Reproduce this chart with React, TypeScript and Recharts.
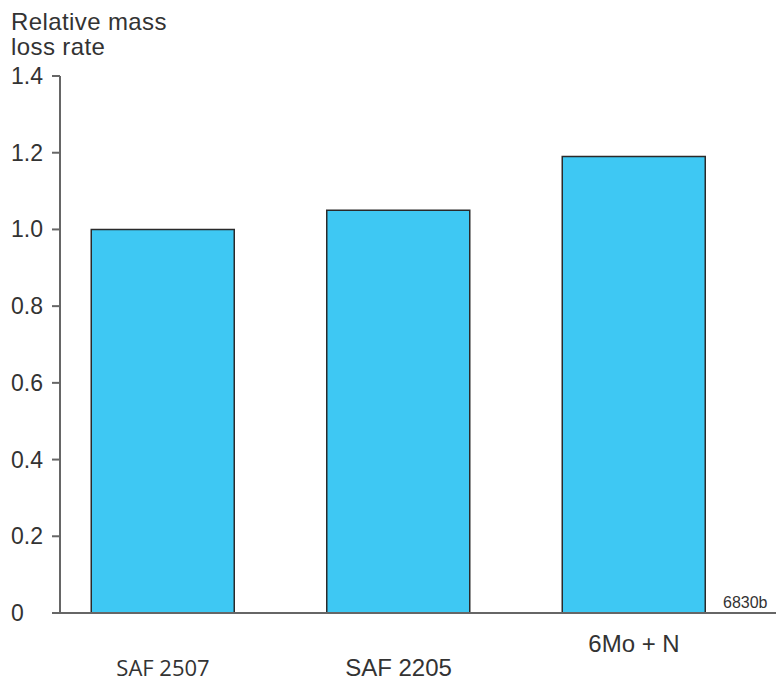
import React from 'react';
import { BarChart, Bar, XAxis, YAxis } from 'recharts';

const alloys = ['SAF 2507', 'SAF 2205', '6Mo + N'];
const massLossRate = [1.0, 1.05, 1.19];
const yTicks = [0, 0.2, 0.4, 0.6, 0.8, 1.0, 1.2, 1.4];
const yTickLabels = ['0', '0.2', '0.4', '0.6', '0.8', '1.0', '1.2', '1.4'];

const data = alloys.map((name, i) => ({ name, value: massLossRate[i] }));

const AXIS = '#666';
const TEXT = '#333';

// each category label sits a bit differently in the original
const labelStyles = [
  { dy: 63, font: '"Open Sans", sans-serif', size: 22 },
  { dy: 63, font: '"Liberation Sans", Arial, sans-serif', size: 24 },
  { dy: 39, font: '"Liberation Sans", Arial, sans-serif', size: 24 },
];

const CategoryTick = (props: any) => {
  const { x, y, payload, index } = props;
  const s = labelStyles[index] || labelStyles[0];
  return (
    <text x={x} y={y + s.dy} textAnchor="middle" fill={TEXT} fontFamily={s.font} fontSize={s.size}>
      {payload.value}
    </text>
  );
};

const ValueTick = (props: any) => {
  const { y, payload } = props;
  const i = yTicks.indexOf(payload.value);
  return (
    <text x={11} y={y} dy={8} textAnchor="start" fill={TEXT} fontSize={23} fontFamily='"Liberation Sans", Arial, sans-serif'>
      {i >= 0 ? yTickLabels[i] : payload.value}
    </text>
  );
};

export default function App() {
  return (
    <div style={{ position: 'relative', width: 776, height: 681, fontFamily: '"Liberation Sans", Arial, sans-serif' }}>
      <style>{'body{margin:0}'}</style>
      <div style={{ position: 'absolute', left: 11, top: 9, fontSize: 24, lineHeight: '25px', color: TEXT, letterSpacing: 0.4 }}>
        Relative mass
        <br />
        loss rate
      </div>
      <div style={{ position: 'absolute', left: 723, top: 594, fontSize: 16, color: TEXT }}>6830b</div>
      <BarChart width={776} height={681} data={data} margin={{ top: 76, right: 0, bottom: 0, left: 0 }} barSize={143}>
        <XAxis
          dataKey="name"
          padding={{ left: -14.75, right: 24.25 }}
          axisLine={{ stroke: AXIS, strokeWidth: 2 }}
          tickLine={false}
          tickSize={0}
          tickMargin={0}
          interval={0}
          tick={<CategoryTick />}
          height={68}
        />
        <YAxis
          width={60}
          domain={[0, 1.4]}
          ticks={yTicks}
          interval={0}
          axisLine={{ stroke: AXIS, strokeWidth: 2 }}
          tickLine={{ stroke: AXIS, strokeWidth: 2 }}
          tickSize={8}
          tick={<ValueTick />}
        />
        <Bar dataKey="value" fill="#3EC8F3" stroke="#2a2a2a" strokeWidth={1.5} isAnimationActive={false} />
      </BarChart>
    </div>
  );
}
